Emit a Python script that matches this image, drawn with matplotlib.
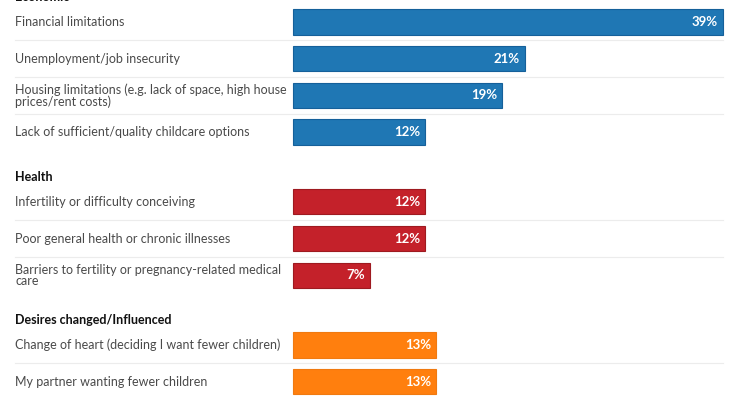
import matplotlib
matplotlib.use('Agg')
import matplotlib.pyplot as plt

groups = ['Economic', 'Health', 'Desires changed/Influenced']
econ_labels = ['Financial limitations',
               'Unemployment/job insecurity',
               'Housing limitations (e.g. lack of space, high house\nprices/rent costs)',
               'Lack of sufficient/quality childcare options']
econ_values = [39, 21, 19, 12]
health_labels = ['Infertility or difficulty conceiving',
                 'Poor general health or chronic illnesses',
                 'Barriers to fertility or pregnancy-related medical\ncare']
health_values = [12, 12, 7]
desire_labels = ['Change of heart (deciding I want fewer children)',
                 'My partner wanting fewer children']
desire_values = [13, 13]
colors = ['#1f77b4', '#c4212a', '#ff7f0e']
edges = ['#15609a', '#9e1a20', '#f07a10']

fig = plt.figure(figsize=(7.4, 4.16), dpi=100)
ax = fig.add_axes([0, 0, 1, 1])

px = 430 / 39.0          # pixels per percent
ax.set_xlim(-293 / px, (740 - 293) / px)
row = 36.7
ax.set_ylim((416 - 22) / row, -22 / row)
ax.axis('off')

label_x = (15 - 293) / px
line_end = (723 - 293) / px
font = 'Lato'

start = 0.0
for name, labels, values, c, ec in zip(groups,
                                      [econ_labels, health_labels, desire_labels],
                                      [econ_values, health_values, desire_values],
                                      colors, edges):
    ys = [start + i for i in range(len(values))]
    ax.text(label_x, start - 0.68, name, ha='left', va='center',
            fontsize=9, fontweight='bold', color='#111111', family=font)
    ax.barh(ys, values, height=0.69, color=c, edgecolor=ec, linewidth=0.8)
    for y, v, lab in zip(ys, values, labels):
        ax.text(label_x, y, lab, ha='left', va='center', fontsize=9,
                color='#4a4a4a', family=font, linespacing=0.92)
        ax.text(v - 5 / px, y, f'{v}%', ha='right', va='center', fontsize=9.5,
                fontweight='bold', color='white', family=font)
    for y in ys[:-1]:
        ax.plot([label_x, line_end], [y + 0.5, y + 0.5], color='#ececec', lw=0.8,
                zorder=0)
    start = ys[-1] + 1.9

fig.savefig('out.png', dpi=100)
